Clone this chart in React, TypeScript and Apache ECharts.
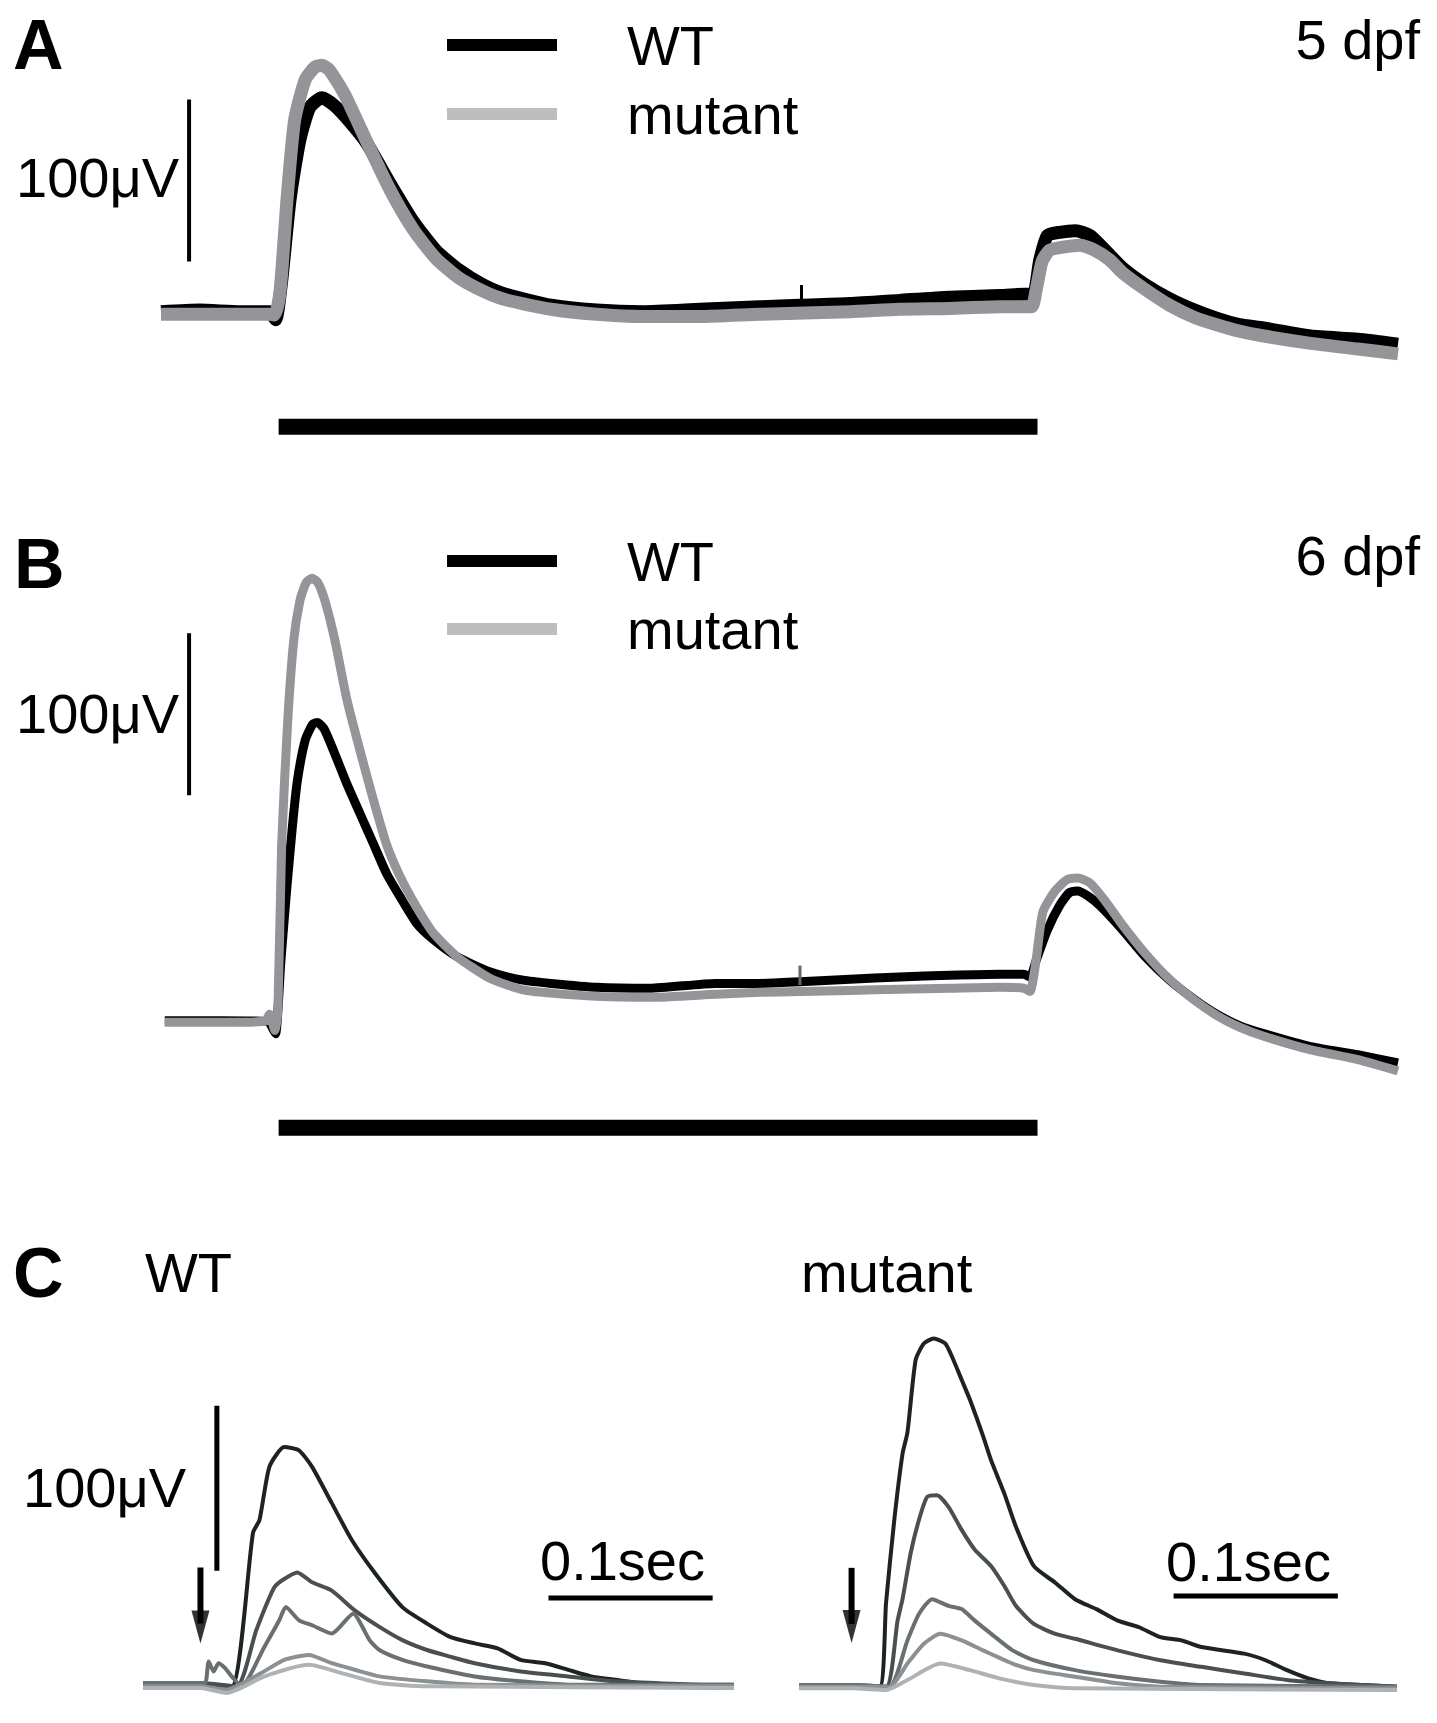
import React, { useEffect, useRef } from 'react';
import * as echarts from 'echarts';

const W = 1437;
const H = 1723;
const FONT = 'Liberation Sans';

// ---------- Panel A (5 dpf): time in ms (light on at 0 ms, off at 1000 ms), amplitude in µV
const wtA5dpf: number[][] = [
  [-150, 1], [-99, 2], [-46, 1], [-7, 1], [1, -4], [9, 20], [20, 70], [33, 107], [46, 127], [62, 133],
  [79, 128], [99, 118], [121, 105], [152, 80], [182, 57], [212, 39], [242, 27], [273, 18], [303, 12],
  [364, 5], [424, 2], [485, 1], [560, 2.5], [639, 4], [692, 5], [758, 6], [823, 8], [889, 10], [955, 11],
  [995, 12], [1000, 12], [1008, 33], [1018, 48], [1034, 50], [1055, 51], [1074, 48], [1094, 39], [1117, 28],
  [1146, 18], [1179, 9], [1212, 2], [1241, -3], [1271, -7], [1303, -9], [1365, -14], [1427, -16], [1480, -19],
];
const mutA5dpf: number[][] = [
  [-150, -0.6], [-99, -0.6], [-46, -0.6], [-7, -0.6], [0, -1], [7, 14], [16, 70], [26, 119], [40, 144],
  [53, 152], [62, 153], [72, 150], [92, 135], [121, 106], [152, 76], [182, 52], [212, 34], [242, 22],
  [273, 14], [303, 8.5], [364, 2.5], [424, -0.6], [485, -2], [560, -2], [639, -0.6], [758, 1], [823, 2.5],
  [889, 3], [955, 4], [997, 4], [1003, 14], [1011, 32], [1021, 39], [1041, 41], [1061, 42], [1080, 39],
  [1100, 33], [1117, 25], [1146, 15], [1179, 5], [1212, -2.5], [1241, -7], [1271, -11], [1303, -14],
  [1365, -18.5], [1427, -22], [1480, -25],
];
const artifactA: number[][] = [[694, 6], [694, 17.5]];
const lightBarA: number[][] = [[5, -70], [1005, -70]];
const scaleBarA: number[][] = [[-113, 32], [-113, 132]];

// ---------- Panel B (6 dpf)
const wtB6dpf: number[][] = [
  [-145, 1], [-72, 1], [-9, 0.6], [-3, -3.7], [1, -7], [8, 38], [16, 84], [24, 125], [30, 150], [40, 174],
  [50, 184], [56, 185], [65, 181], [77, 168], [95, 147], [112, 129], [130, 110], [147, 92], [165, 77.5],
  [187, 61], [209, 51], [240, 40.5], [284, 31], [327, 26], [364, 24], [424, 21.6], [494, 21], [581, 24],
  [639, 24], [692, 25], [758, 26.5], [823, 28], [889, 29], [955, 29.6], [987, 29.6], [995, 28], [1003, 38],
  [1018, 57], [1034, 72], [1047, 80], [1058, 81], [1071, 78], [1087, 72], [1117, 57], [1146, 41], [1179, 26],
  [1212, 14], [1241, 5], [1271, -2], [1303, -7], [1365, -15], [1427, -20], [1480, -25],
];
const mutB6dpf: number[][] = [
  [-145, 0], [-72, 0], [-13, 0.6], [-7, 5], [0, -5], [4, 7], [9, 110], [17, 186], [25, 236], [33, 260],
  [41, 271], [49, 274], [57, 271], [66, 260], [79, 236], [95, 199], [112, 168], [130, 137], [147, 110],
  [165, 90], [187, 71], [209, 55], [240, 40.5], [284, 27], [327, 20], [364, 18], [424, 16],
  [494, 15.4], [581, 17.3], [639, 18.5], [692, 19], [758, 19.7], [823, 20.4], [889, 21], [955, 21.6],
  [987, 21], [995, 19], [1003, 38], [1012, 68], [1028, 81], [1044, 88], [1058, 89], [1074, 86], [1094, 75],
  [1117, 60], [1146, 43], [1179, 26.5], [1212, 13.6], [1241, 4.3], [1271, -3], [1303, -8.6], [1365, -17],
  [1427, -23], [1480, -30],
];
const artifactB: number[][] = [[692, 23], [692, 35]];
const lightBarB: number[][] = [[5, -65], [1005, -65]];
const scaleBarB: number[][] = [[-113, 140], [-113, 240]];

// ---------- Panel C: flash responses, time in ms after flash, amplitude in µV (brightest flash first)
const wtC: number[][][] = [
  [[-35, -1], [0, -1], [19, -2], [32, 91], [36, 99], [42, 131], [51, 143], [60, 141], [68, 131], [80, 109],
   [92, 87], [106, 67], [123, 46], [138, 36], [152, 28], [167, 24], [181, 21], [195, 14], [210, 12], [224, 8],
   [238, 4], [253, 2], [282, -2], [325, -3]],
  [[-35, 0], [0, 0], [22, -2], [34, 32], [45, 58], [51, 63], [59, 67], [68, 61], [80, 56], [94, 44], [109, 34],
   [123, 26], [138, 20], [152, 16], [167, 12], [195, 7], [224, 4], [253, 1], [311, -1], [325, -1]],
  [[-35, 0], [0, 0], [3, 0], [5, 13], [8, 7], [11, 12], [15, 9], [19, 4], [25, -2], [39, 22], [48, 38], [52, 46],
   [60, 38], [68, 35], [80, 30], [93, 42], [103, 26], [109, 20], [123, 14], [138, 10], [167, 4], [195, 1],
   [224, -1], [325, -1]],
  [[-35, -2], [0, -2], [16, -4], [37, 6], [51, 14], [66, 17], [80, 12], [94, 8], [109, 4], [138, 1],
   [167, -1], [325, -2]],
  [[-35, -3], [0, -3], [16, -6], [39, 4], [66, 11], [86, 6], [109, 0], [138, -2], [325, -3]],
];
const mutC: number[][][] = [
  [[-32, -1], [0, -1], [17, -1], [21, 50], [26, 100], [31, 140], [34, 153], [39, 197], [44, 207], [50, 210],
   [57, 207], [62, 197], [67, 185], [72, 173], [80, 151], [85, 136], [93, 116], [100, 96], [111, 72],
   [124, 62], [136, 52], [149, 46], [162, 39], [175, 35], [188, 29], [201, 27], [213, 23], [239, 19],
   [252, 15], [265, 9], [278, 4], [291, 1], [332, -1]],
  [[-32, 0], [0, 0], [21, -1], [28, 39], [31, 52], [36, 80], [41, 100], [46, 114], [52, 115], [59, 108],
   [67, 94], [75, 82], [85, 72], [93, 60], [100, 48], [111, 37], [124, 31], [136, 28], [162, 21], [188, 15],
   [213, 11], [239, 7], [265, 3], [291, 1], [332, -1]],
  [[-32, 0], [0, 0], [23, -1], [34, 27], [41, 43], [49, 52], [59, 48], [67, 46], [75, 39], [85, 31],
   [98, 21], [111, 15], [136, 9], [162, 5], [188, 2], [213, 0], [332, -1]],
  [[-32, -1], [0, -1], [23, -1], [34, 13], [44, 25], [54, 31], [67, 27], [80, 21], [98, 13], [111, 9],
   [136, 5], [162, 1], [188, -1], [332, -2]],
  [[-32, -2], [0, -2], [21, -3], [34, 3], [54, 13], [72, 9], [90, 4], [111, 0], [136, -2], [332, -3]],
];
const cColors = ['#1d2323', '#4a5052', '#6a7072', '#8b9093', '#aeb2b5'];
const scaleBarC: number[][] = [[10, 68], [10, 168]];
const timeBarWT: number[][] = [[212, 51.5], [312, 51.5]];
const timeBarMut: number[][] = [[196, 54], [296, 54]];
const arrowShaftWT: number[][] = [[0, 70], [0, 36]];
const arrowHeadWT: number[][] = [[0, 34]];
const arrowShaftMut: number[][] = [[0, 71], [0, 37]];
const arrowHeadMut: number[][] = [[0, 35.5]];

const legendNames = ['WT', 'mutant'];
const WT_COLOR = '#000000';
const MUT_COLOR = '#939598';
const MUT_LEGEND_COLOR = '#bcbec0';

function line(name: string, data: number[][], idx: number, color: string, width: number, smooth = 0, z = 2) {
  return {
    type: 'line', name, data, xAxisIndex: idx, yAxisIndex: idx,
    symbol: 'none', showSymbol: false, silent: true, clip: false, z,
    smooth: smooth || false,
    lineStyle: { color, width, cap: 'butt', join: 'round' },
    itemStyle: { color },
  };
}

function text(t: string, x: number, y: number, opts: any = {}) {
  return {
    type: 'text', x, y, silent: true,
    style: {
      text: t, fontFamily: FONT, fontSize: opts.size || 56, fontWeight: opts.bold ? 'bold' : 'normal',
      fill: '#000', align: opts.align || 'left', verticalAlign: 'middle',
    },
  };
}

function legend(top: number, gap: number) {
  return {
    show: true, orient: 'vertical', left: 447, top, padding: 0, itemGap: gap,
    itemWidth: 110, itemHeight: 12, icon: 'rect', selectedMode: false,
    itemStyle: { borderWidth: 0 },
    textStyle: { fontFamily: FONT, fontSize: 56, lineHeight: 56, color: '#000', padding: [0, 0, 8, 65] },
    data: [
      { name: legendNames[0], itemStyle: { color: WT_COLOR, borderWidth: 0 } },
      { name: legendNames[1], itemStyle: { color: MUT_LEGEND_COLOR, borderWidth: 0 } },
    ],
  };
}

const hiddenAxis = (idx: number, min: number, max: number) => ({
  type: 'value', gridIndex: idx, min, max, show: false, splitLine: { show: false },
});

export default function App() {
  const ref = useRef<HTMLDivElement>(null);
  useEffect(() => {
    document.body.style.margin = '0';
    const chart = echarts.init(ref.current!, null, { renderer: 'svg' });
    const series: any[] = [
      // Panel A
      line('light A', lightBarA, 0, '#000', 16),
      line('scale A', scaleBarA, 0, '#000', 4),
      line('WT', wtA5dpf, 0, WT_COLOR, 13, 0.2),
      line('mutant', mutA5dpf, 0, MUT_COLOR, 13, 0.2),
      line('artifact A', artifactA, 0, '#000', 3, 0, 3),
      // Panel B
      line('light B', lightBarB, 1, '#000', 16),
      line('scale B', scaleBarB, 1, '#000', 4),
      line('WT', wtB6dpf, 1, WT_COLOR, 9, 0.2),
      line('mutant', mutB6dpf, 1, MUT_COLOR, 9, 0.2),
      line('artifact B', artifactB, 1, '#666', 3, 0, 3),
      // Panel C WT
      ...wtC.map((d, i) => line('WT flash ' + (i + 1), d, 2, cColors[i], 4, 0.2)),
      line('scale C', scaleBarC, 2, '#000', 5),
      line('0.1 s WT', timeBarWT, 2, '#000', 5),
      line('flash WT', arrowShaftWT, 2, '#000', 6),
      {
        type: 'scatter', name: 'flash WT head', data: arrowHeadWT, xAxisIndex: 2, yAxisIndex: 2,
        symbol: 'triangle', symbolSize: [18, 33], symbolRotate: 180, silent: true, z: 4,
        itemStyle: { color: '#000', borderWidth: 0 },
      },
      // Panel C mutant
      ...mutC.map((d, i) => line('mutant flash ' + (i + 1), d, 3, cColors[i], 4, 0.2)),
      line('0.1 s mutant', timeBarMut, 3, '#000', 5),
      line('flash mutant', arrowShaftMut, 3, '#000', 6),
      {
        type: 'scatter', name: 'flash mutant head', data: arrowHeadMut, xAxisIndex: 3, yAxisIndex: 3,
        symbol: 'triangle', symbolSize: [18, 33], symbolRotate: 180, silent: true, z: 4,
        itemStyle: { color: '#000', borderWidth: 0 },
      },
    ];

    chart.setOption({
      animation: false,
      backgroundColor: '#ffffff',
      grid: [
        { left: 161, top: 54, width: 1237, height: 389, containLabel: false, outerBoundsMode: 'none' },
        { left: 161, top: 536, width: 1237, height: 616, containLabel: false, outerBoundsMode: 'none' },
        { left: 143, top: 1386, width: 591, height: 330, containLabel: false, outerBoundsMode: 'none' },
        { left: 799, top: 1388, width: 598, height: 330, containLabel: false, outerBoundsMode: 'none' },
      ],
      xAxis: [
        hiddenAxis(0, -150, 1480),
        hiddenAxis(1, -150, 1480),
        hiddenAxis(2, -35, 325),
        hiddenAxis(3, -32, 332),
      ],
      yAxis: [
        hiddenAxis(0, -80, 160),
        hiddenAxis(1, -80, 300),
        hiddenAxis(2, -20, 180),
        hiddenAxis(3, -20, 180),
      ],
      legend: [legend(13, 5), legend(529, 4)],
      series,
      graphic: [
        text('A', 13, 45, { size: 70, bold: true }),
        text('5 dpf', 1420, 39, { align: 'right' }),
        text('100μV', 16, 177),
        text('B', 14, 564, { size: 70, bold: true }),
        text('6 dpf', 1420, 555, { align: 'right' }),
        text('100μV', 16, 713),
        text('C', 13, 1273, { size: 70, bold: true }),
        text('WT', 145, 1272),
        text('mutant', 801, 1272),
        text('100μV', 23, 1487),
        text('0.1sec', 540, 1560),
        text('0.1sec', 1166, 1561),
      ],
    });
    return () => chart.dispose();
  }, []);
  return <div ref={ref} style={{ width: W, height: H, background: '#fff' }} />;
}
